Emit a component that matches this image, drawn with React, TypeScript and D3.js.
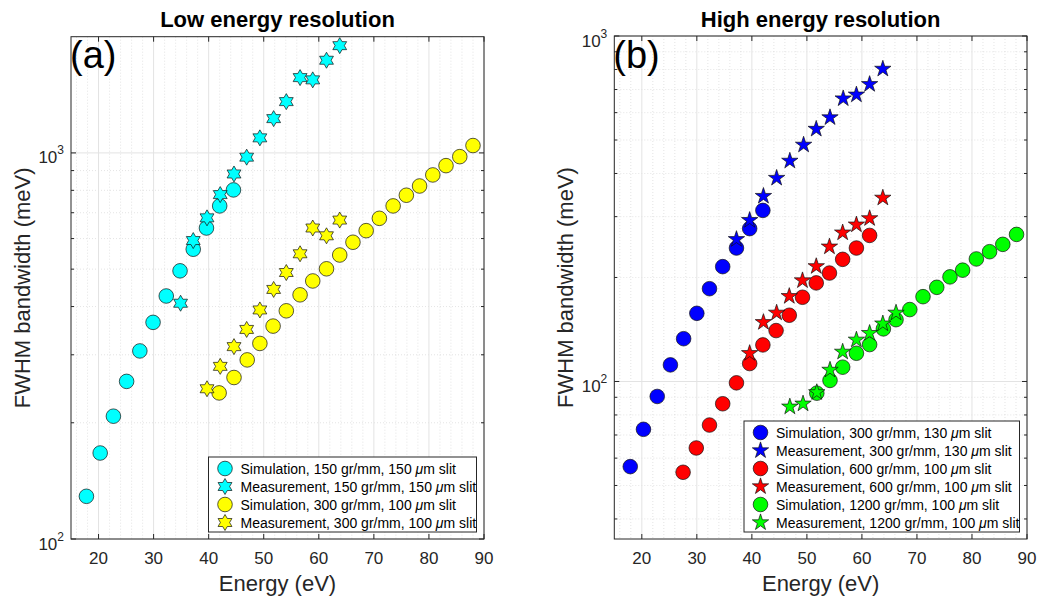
import React from "react";
import * as d3 from "d3";

// ---------- Data ----------
// Panel (a): low energy resolution
const lowSimCyanE = [17.8, 20.3, 22.7, 25.1, 27.5, 29.9, 32.3, 34.8, 37.2, 39.6, 42.0, 44.5];
const lowSimCyanW = [129, 167, 208, 256, 307, 364, 426, 495, 563, 639, 729, 802];
const lowMeasCyanE = [34.9, 37.2, 39.7, 42.1, 44.6, 46.9, 49.3, 51.8, 54.1, 56.6, 58.9, 61.4, 63.8];
const lowMeasCyanW = [408, 593, 679, 780, 882, 975, 1094, 1227, 1358, 1567, 1546, 1738, 1896];
const lowSimYellowE = [41.9, 44.6, 47.0, 49.3, 51.7, 54.1, 56.6, 58.9, 61.4, 63.8, 66.2, 68.6, 71.0, 73.5, 75.9, 78.3, 80.7, 83.1, 85.6, 88.0];
const lowSimYellowW = [239, 262, 291, 321, 356, 390, 429, 466, 501, 544, 587, 629, 677, 729, 777, 821, 877, 927, 978, 1045];
const lowMeasYellowE = [39.7, 42.1, 44.6, 46.9, 49.3, 51.8, 54.1, 56.6, 58.9, 61.4, 63.8];
const lowMeasYellowW = [245, 280, 315, 349, 392, 443, 490, 548, 639, 610, 670];

// Panel (b): high energy resolution
const blueSimE = [17.9, 20.3, 22.8, 25.2, 27.6, 30.0, 32.3, 34.7, 37.2, 39.6, 42.0];
const blueSimW = [56.7, 72.7, 90.5, 111.7, 133, 157.5, 185.6, 215, 243.4, 277, 312.7];
const blueMeasE = [37.2, 39.6, 42.1, 44.5, 46.9, 49.4, 51.7, 54.2, 56.6, 59.0, 61.4, 63.8];
const blueMeasW = [258, 293, 344, 388, 435, 484, 538, 581, 659, 676, 725, 803];
const redSimE = [27.5, 29.9, 32.3, 34.7, 37.2, 39.6, 42.0, 44.4, 46.8, 49.2, 51.7, 54.1, 56.5, 59.0, 61.4];
const redSimW = [54.6, 64.2, 74.8, 86.2, 99.1, 112.7, 127.6, 140.4, 155.5, 175.3, 192.9, 206, 225.7, 243.4, 264.7];
const redMeasE = [39.6, 42.1, 44.5, 46.8, 49.2, 51.7, 54.1, 56.5, 59.0, 61.4, 63.8];
const redMeasW = [120.7, 148.4, 158, 176.5, 196, 215.4, 245.5, 269.6, 284.3, 296.5, 340];
const greenSimE = [51.8, 54.2, 56.5, 59.0, 61.4, 63.9, 66.2, 68.7, 71.1, 73.6, 76.0, 78.3, 80.8, 83.2, 85.6, 88.1];
const greenSimW = [92.5, 100.7, 110, 120.7, 127.9, 142, 151, 161.5, 176, 187.3, 200.8, 210, 226.3, 237.5, 249.4, 266.5];
const greenMeasE = [46.9, 49.3, 51.8, 54.2, 56.5, 59.0, 61.4, 63.8, 66.2];
const greenMeasW = [84.5, 86.2, 93, 108, 121.8, 132, 138, 147, 158];

const xTicks = [20, 30, 40, 50, 60, 70, 80, 90];
const xDomain: [number, number] = [15, 90];
const lowYDomain: [number, number] = [100, 2000];
const highYDomain: [number, number] = [35, 1000];
const lowYTickExp = [2, 3];
const highYTickExp = [2, 3];

const lowLegend = [
  { pre: "Simulation, 150 gr/mm, 150 ", marker: "circle", color: "#00ffff" },
  { pre: "Measurement, 150 gr/mm, 150 ", marker: "hexagram", color: "#00ffff" },
  { pre: "Simulation, 300 gr/mm, 100 ", marker: "circle", color: "#ffff00" },
  { pre: "Measurement, 300 gr/mm, 100 ", marker: "hexagram", color: "#ffff00" },
];
const highLegend = [
  { pre: "Simulation, 300 gr/mm, 130 ", marker: "circle", color: "#0000ff" },
  { pre: "Measurement, 300 gr/mm, 130 ", marker: "pentagram", color: "#0000ff" },
  { pre: "Simulation, 600 gr/mm, 100 ", marker: "circle", color: "#ff0000" },
  { pre: "Measurement, 600 gr/mm, 100 ", marker: "pentagram", color: "#ff0000" },
  { pre: "Simulation, 1200 gr/mm, 100 ", marker: "circle", color: "#00ff00" },
  { pre: "Measurement, 1200 gr/mm, 100 ", marker: "pentagram", color: "#00ff00" },
];

const lowSeries = [
  { e: lowSimCyanE, w: lowSimCyanW, marker: "circle", color: "#00ffff" },
  { e: lowMeasCyanE, w: lowMeasCyanW, marker: "hexagram", color: "#00ffff" },
  { e: lowSimYellowE, w: lowSimYellowW, marker: "circle", color: "#ffff00" },
  { e: lowMeasYellowE, w: lowMeasYellowW, marker: "hexagram", color: "#ffff00" },
];
const highSeries = [
  { e: blueSimE, w: blueSimW, marker: "circle", color: "#0000ff" },
  { e: blueMeasE, w: blueMeasW, marker: "pentagram", color: "#0000ff" },
  { e: redSimE, w: redSimW, marker: "circle", color: "#ff0000" },
  { e: redMeasE, w: redMeasW, marker: "pentagram", color: "#ff0000" },
  { e: greenSimE, w: greenSimW, marker: "circle", color: "#00ff00" },
  { e: greenMeasE, w: greenMeasW, marker: "pentagram", color: "#00ff00" },
];

// ---------- Styling ----------
const FONT = "'Liberation Sans', Arial, Helvetica, sans-serif";
const AX = "#262626";

function starPath(n: number, R: number, r: number): string {
  const pts: [number, number][] = [];
  for (let i = 0; i < 2 * n; i++) {
    const rad = i % 2 === 0 ? R : r;
    const a = -Math.PI / 2 + (i * Math.PI) / n;
    pts.push([rad * Math.cos(a), rad * Math.sin(a)]);
  }
  return "M" + pts.map((p) => p[0].toFixed(2) + "," + p[1].toFixed(2)).join("L") + "Z";
}
const HEX = starPath(6, 8, 8 / Math.sqrt(3));
const PENT = starPath(5, 8.6, 8.6 * 0.382);

function Marker({ kind, color, x, y }: { kind: string; color: string; x: number; y: number }) {
  if (kind === "circle")
    return <circle cx={x} cy={y} r={7.3} fill={color} stroke="#111" strokeWidth={0.7} />;
  return (
    <path
      d={kind === "hexagram" ? HEX : PENT}
      transform={`translate(${x},${y})`}
      fill={color}
      stroke="#111"
      strokeWidth={0.7}
      strokeLinejoin="miter"
    />
  );
}

type PanelProps = {
  x0: number; x1: number; y0: number; y1: number;
  yDomain: [number, number];
  yTickExp: number[];
  series: { e: number[]; w: number[]; marker: string; color: string }[];
  legend: { pre: string; marker: string; color: string }[];
  legendBox: { x0: number; y0: number; x1: number; y1: number };
  title: string;
  tag: string;
};

function Panel(p: PanelProps) {
  const x = d3.scaleLinear().domain(xDomain).range([p.x0, p.x1]);
  const y = d3.scaleLog().domain(p.yDomain).range([p.y1, p.y0]);
  const minorX = d3.range(16, 90, 2).filter((v) => v % 10 !== 0);
  const minorY: number[] = [];
  for (let k = 1; k <= 3; k++) {
    for (let m = 2; m <= 9; m++) {
      const v = m * Math.pow(10, k);
      if (v > p.yDomain[0] && v < p.yDomain[1]) minorY.push(v);
    }
  }
  const majorY = p.yTickExp.map((e) => Math.pow(10, e)).filter((v) => v >= p.yDomain[0] && v <= p.yDomain[1]);
  const cx = (p.x0 + p.x1) / 2;
  const cy = (p.y0 + p.y1) / 2;
  const lb = p.legendBox;
  return (
    <g>
      {/* minor grid */}
      {minorX.map((v) => (
        <line key={"mx" + v} x1={x(v)} x2={x(v)} y1={p.y0} y2={p.y1} stroke="#d2d2d2" strokeWidth={0.6} strokeDasharray="1,2" />
      ))}
      {minorY.map((v) => (
        <line key={"my" + v} x1={p.x0} x2={p.x1} y1={y(v)} y2={y(v)} stroke="#d2d2d2" strokeWidth={0.6} strokeDasharray="1,2" />
      ))}
      {/* major grid */}
      {xTicks.map((v) => (
        <line key={"gx" + v} x1={x(v)} x2={x(v)} y1={p.y0} y2={p.y1} stroke="#e3e3e3" strokeWidth={1} />
      ))}
      {majorY.map((v) => (
        <line key={"gy" + v} x1={p.x0} x2={p.x1} y1={y(v)} y2={y(v)} stroke="#e3e3e3" strokeWidth={1} />
      ))}
      {/* data */}
      {p.series.map((s, si) => (
        <g key={"s" + si}>
          {s.e.map((ev, i) => (
            <Marker key={i} kind={s.marker} color={s.color} x={x(ev)} y={y(s.w[i])} />
          ))}
        </g>
      ))}
      {/* ticks */}
      {xTicks.map((v) => (
        <g key={"tx" + v}>
          <line x1={x(v)} x2={x(v)} y1={p.y1} y2={p.y1 - 5} stroke={AX} strokeWidth={1} />
          <line x1={x(v)} x2={x(v)} y1={p.y0} y2={p.y0 + 5} stroke={AX} strokeWidth={1} />
          <text x={x(v)} y={p.y1 + 25} textAnchor="middle" fontSize={17} fill={AX} fontFamily={FONT}>
            {v}
          </text>
        </g>
      ))}
      {minorY.map((v) => (
        <g key={"tmy" + v}>
          <line x1={p.x0} x2={p.x0 + 3} y1={y(v)} y2={y(v)} stroke={AX} strokeWidth={1} />
          <line x1={p.x1} x2={p.x1 - 3} y1={y(v)} y2={y(v)} stroke={AX} strokeWidth={1} />
        </g>
      ))}
      {majorY.map((v) => (
        <g key={"ty" + v}>
          <line x1={p.x0} x2={p.x0 + 5} y1={y(v)} y2={y(v)} stroke={AX} strokeWidth={1} />
          <line x1={p.x1} x2={p.x1 - 5} y1={y(v)} y2={y(v)} stroke={AX} strokeWidth={1} />
          <text x={p.x0 - 7} y={y(v) + 10.5} textAnchor="end" fontSize={17} fill={AX} fontFamily={FONT}>
            10
            <tspan fontSize={12} dy={-9}>{Math.round(Math.log10(v))}</tspan>
          </text>
        </g>
      ))}
      {/* box */}
      <rect x={p.x0} y={p.y0} width={p.x1 - p.x0} height={p.y1 - p.y0} fill="none" stroke={AX} strokeWidth={1} />
      {/* legend */}
      <rect x={lb.x0} y={lb.y0} width={lb.x1 - lb.x0} height={lb.y1 - lb.y0} fill="#fff" stroke={AX} strokeWidth={1} />
      {p.legend.map((l, i) => {
        const ly = lb.y0 + 11.5 + i * 18;
        return (
          <g key={"l" + i}>
            <Marker kind={l.marker} color={l.color} x={lb.x0 + 16.5} y={ly} />
            <text x={lb.x0 + 32} y={ly + 5} fontSize={14} fill="#000" fontFamily={FONT}>
              {l.pre}
              <tspan fontStyle="italic">μ</tspan>m slit
            </text>
          </g>
        );
      })}
      {/* labels */}
      <text x={cx} y={27} textAnchor="middle" fontSize={22} fontWeight="bold" fill="#000" fontFamily={FONT}>
        {p.title}
      </text>
      <text x={cx} y={591} textAnchor="middle" fontSize={22} fill={AX} fontFamily={FONT}>
        Energy (eV)
      </text>
      <text
        transform={`translate(${p.x0 - 41},${cy}) rotate(-90)`}
        textAnchor="middle"
        fontSize={22}
        fill={AX}
        fontFamily={FONT}
      >
        FWHM bandwidth (meV)
      </text>
      <text x={p.x0 - 1} y={68} fontSize={38} fill="#000" fontFamily={FONT}>
        {p.tag}
      </text>
    </g>
  );
}

export default function App() {
  return (
    <svg
      width={1038}
      height={599}
      viewBox="0 0 1038 599"
      style={{ position: "absolute", left: 0, top: 0, background: "#fff" }}
    >
      <rect x={0} y={0} width={1038} height={599} fill="#fff" />
      <Panel
        x0={71} x1={484} y0={36.7} y1={539}
        yDomain={lowYDomain} yTickExp={lowYTickExp}
        series={lowSeries} legend={lowLegend}
        legendBox={{ x0: 208.5, y0: 457, x1: 476.5, y1: 532 }}
        title="Low energy resolution" tag="(a)"
      />
      <Panel
        x0={614.3} x1={1027} y0={36} y1={539}
        yDomain={highYDomain} yTickExp={highYTickExp}
        series={highSeries} legend={highLegend}
        legendBox={{ x0: 744, y0: 421, x1: 1019.5, y1: 532 }}
        title="High energy resolution" tag="(b)"
      />
    </svg>
  );
}
